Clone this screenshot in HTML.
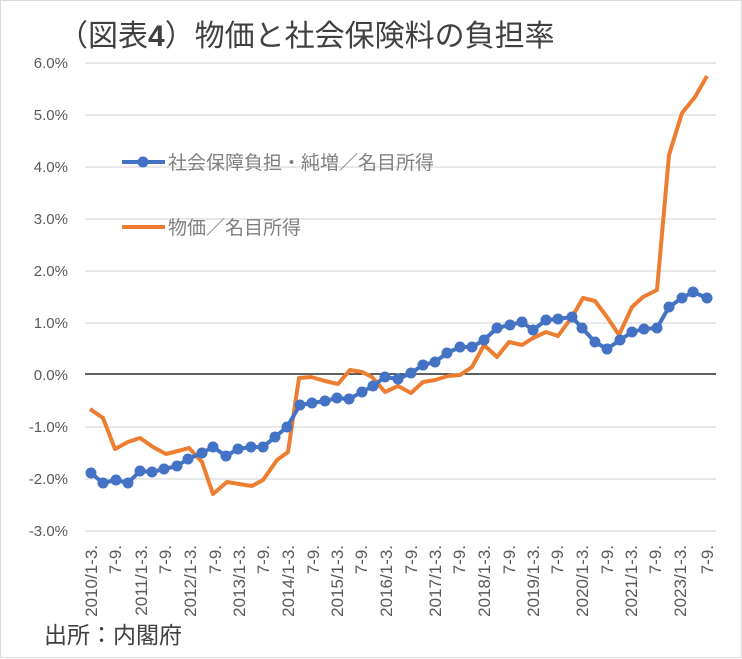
<!DOCTYPE html>
<html><head><meta charset="utf-8"><style>
body{margin:0;background:#fff;}
svg{display:block;font-family:"Liberation Sans","Noto Sans CJK JP",sans-serif;}
</style></head><body>
<svg width="742" height="659" viewBox="0 0 742 659">
<rect x="0.5" y="0.5" width="741" height="657" fill="#fff" stroke="#d9d9d9"/>
<text x="58" y="46" font-size="30" fill="#404040">（図表<tspan font-weight="bold">4</tspan>）物価と社会保険料の負担率</text>
<g stroke="#d9d9d9" stroke-width="1.3">
<line x1="85" x2="716" y1="63" y2="63"/><line x1="85" x2="716" y1="115" y2="115"/>
<line x1="85" x2="716" y1="167" y2="167"/><line x1="85" x2="716" y1="219" y2="219"/>
<line x1="85" x2="716" y1="271" y2="271"/><line x1="85" x2="716" y1="323" y2="323"/>
<line x1="85" x2="716" y1="427" y2="427"/><line x1="85" x2="716" y1="479" y2="479"/>
<line x1="85" x2="716" y1="531" y2="531"/>
</g>
<line x1="85" x2="716" y1="374" y2="374" stroke="#000" stroke-width="1.2"/>
<g font-size="15" fill="#595959" text-anchor="end">
<text x="68" y="68">6.0%</text><text x="68" y="120">5.0%</text><text x="68" y="172">4.0%</text>
<text x="68" y="224">3.0%</text><text x="68" y="276">2.0%</text><text x="68" y="328">1.0%</text>
<text x="68" y="380">0.0%</text><text x="68" y="432">-1.0%</text><text x="68" y="484">-2.0%</text>
<text x="68" y="536">-3.0%</text>
</g>
<g font-size="17" fill="#595959" text-anchor="end">
<text transform="translate(97,545) rotate(-90)">2010/1-3.</text>
<text transform="translate(121,545) rotate(-90)">7-9.</text>
<text transform="translate(147,545) rotate(-90)">2011/1-3.</text>
<text transform="translate(171,545) rotate(-90)">7-9.</text>
<text transform="translate(196,545) rotate(-90)">2012/1-3.</text>
<text transform="translate(221,545) rotate(-90)">7-9.</text>
<text transform="translate(245,545) rotate(-90)">2013/1-3.</text>
<text transform="translate(269,545) rotate(-90)">7-9.</text>
<text transform="translate(294,545) rotate(-90)">2014/1-3.</text>
<text transform="translate(319,545) rotate(-90)">7-9.</text>
<text transform="translate(343,545) rotate(-90)">2015/1-3.</text>
<text transform="translate(367,545) rotate(-90)">7-9.</text>
<text transform="translate(392,545) rotate(-90)">2016/1-3.</text>
<text transform="translate(417,545) rotate(-90)">7-9.</text>
<text transform="translate(441,545) rotate(-90)">2017/1-3.</text>
<text transform="translate(465,545) rotate(-90)">7-9.</text>
<text transform="translate(490,545) rotate(-90)">2018/1-3.</text>
<text transform="translate(515,545) rotate(-90)">7-9.</text>
<text transform="translate(539,545) rotate(-90)">2019/1-3.</text>
<text transform="translate(563,545) rotate(-90)">7-9.</text>
<text transform="translate(588,545) rotate(-90)">2020/1-3.</text>
<text transform="translate(613,545) rotate(-90)">7-9.</text>
<text transform="translate(637,545) rotate(-90)">2021/1-3.</text>
<text transform="translate(661,545) rotate(-90)">7-9.</text>
<text transform="translate(686,545) rotate(-90)">2023/1-3.</text>
<text transform="translate(713,545) rotate(-90)">7-9.</text>
</g>
<polyline fill="none" stroke="#ed7d31" stroke-width="4" stroke-linejoin="round" points="90,409 103,418 115,449 128,442 140,438 153,447 166,454 178,451 189,448 202,462 213,494 227,482 239,484 252,486 263,480 277,460 288,452 299,378 311,377 325,381 338,384 350,370 362,372 372,377 385,392 398,386 411,393 423,382 435,380 448,376 460,375 472,367 484,345 497,357 509,342 522,345 533,338 546,332 558,336 572,317 583,298 595,301 607,317 619,335 632,307 643,297 657,290 669,155 682,113 695,97 707,76"/>
<polyline fill="none" stroke="#4472c4" stroke-width="4" stroke-linejoin="round" points="91,473 103,483 116,480 128,483 140,471 152,472 164,469 177,466 188,459 202,453 213,447 226,456 238,449 251,447 263,447 275,437 287,427 300,405 312,403 325,401 337,398 349,399 362,392 373,386 385,377 398,379 411,373 423,365 435,362 447,353 460,347 472,347 484,340 497,328 510,325 522,322 533,330 546,320 558,319 572,317 582,328 595,342 607,349 620,340 632,332 644,329 657,328 669,307 682,298 693,292 707,298"/>
<g fill="#4472c4">
<circle cx="91" cy="473" r="5.5"/><circle cx="103" cy="483" r="5.5"/><circle cx="116" cy="480" r="5.5"/><circle cx="128" cy="483" r="5.5"/><circle cx="140" cy="471" r="5.5"/><circle cx="152" cy="472" r="5.5"/><circle cx="164" cy="469" r="5.5"/><circle cx="177" cy="466" r="5.5"/><circle cx="188" cy="459" r="5.5"/><circle cx="202" cy="453" r="5.5"/><circle cx="213" cy="447" r="5.5"/><circle cx="226" cy="456" r="5.5"/><circle cx="238" cy="449" r="5.5"/><circle cx="251" cy="447" r="5.5"/><circle cx="263" cy="447" r="5.5"/><circle cx="275" cy="437" r="5.5"/><circle cx="287" cy="427" r="5.5"/><circle cx="300" cy="405" r="5.5"/><circle cx="312" cy="403" r="5.5"/><circle cx="325" cy="401" r="5.5"/><circle cx="337" cy="398" r="5.5"/><circle cx="349" cy="399" r="5.5"/><circle cx="362" cy="392" r="5.5"/><circle cx="373" cy="386" r="5.5"/><circle cx="385" cy="377" r="5.5"/><circle cx="398" cy="379" r="5.5"/><circle cx="411" cy="373" r="5.5"/><circle cx="423" cy="365" r="5.5"/><circle cx="435" cy="362" r="5.5"/><circle cx="447" cy="353" r="5.5"/><circle cx="460" cy="347" r="5.5"/><circle cx="472" cy="347" r="5.5"/><circle cx="484" cy="340" r="5.5"/><circle cx="497" cy="328" r="5.5"/><circle cx="510" cy="325" r="5.5"/><circle cx="522" cy="322" r="5.5"/><circle cx="533" cy="330" r="5.5"/><circle cx="546" cy="320" r="5.5"/><circle cx="558" cy="319" r="5.5"/><circle cx="572" cy="317" r="5.5"/><circle cx="582" cy="328" r="5.5"/><circle cx="595" cy="342" r="5.5"/><circle cx="607" cy="349" r="5.5"/><circle cx="620" cy="340" r="5.5"/><circle cx="632" cy="332" r="5.5"/><circle cx="644" cy="329" r="5.5"/><circle cx="657" cy="328" r="5.5"/><circle cx="669" cy="307" r="5.5"/><circle cx="682" cy="298" r="5.5"/><circle cx="693" cy="292" r="5.5"/><circle cx="707" cy="298" r="5.5"/>
</g>
<line x1="122" x2="165" y1="162" y2="162" stroke="#4472c4" stroke-width="4"/>
<circle cx="143" cy="162" r="5.5" fill="#4472c4"/>
<text x="168" y="169" font-size="19" fill="#808080">社会保障負担・純増／名目所得</text>
<line x1="122" x2="165" y1="227" y2="227" stroke="#ed7d31" stroke-width="4"/>
<text x="168" y="234" font-size="19" fill="#808080">物価／名目所得</text>
<text x="44" y="643" font-size="23" fill="#404040">出所：内閣府</text>
</svg>
</body></html>
